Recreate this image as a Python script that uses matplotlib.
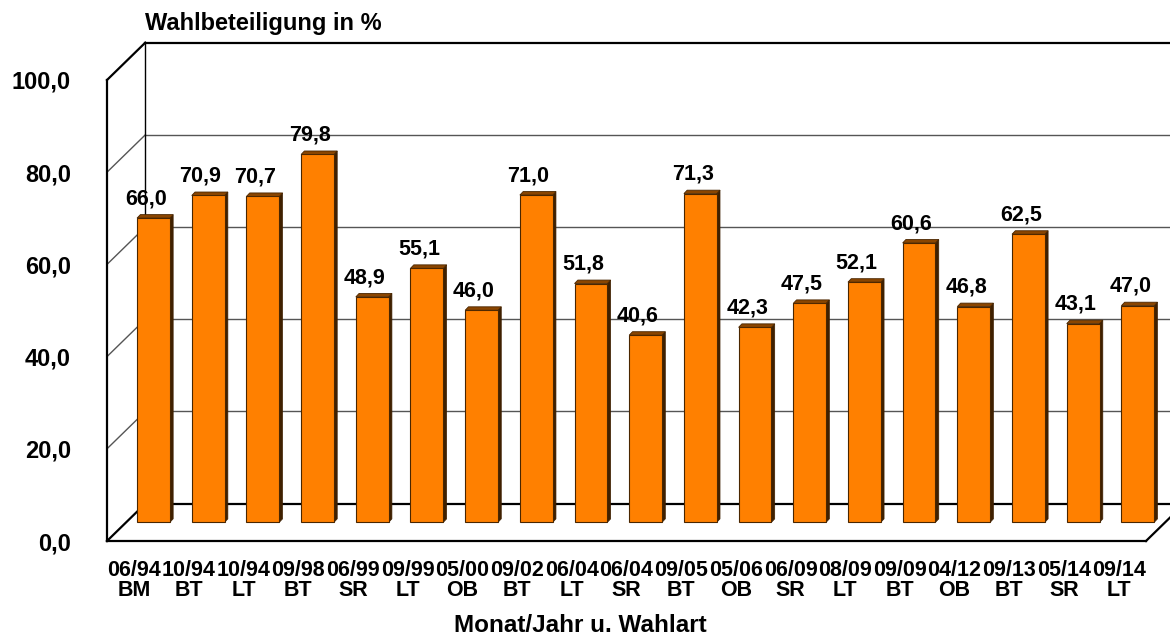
import matplotlib

matplotlib.use("Agg")
import matplotlib.pyplot as plt
import numpy as np
from matplotlib.patches import Polygon

PERIODS = ["06/94", "10/94", "10/94", "09/98", "06/99", "09/99", "05/00", "09/02",
           "06/04", "06/04", "09/05", "05/06", "06/09", "08/09", "09/09", "04/12",
           "09/13", "05/14", "09/14"]
KINDS = ["BM", "BT", "LT", "BT", "SR", "LT", "OB", "BT", "LT", "SR", "BT", "OB",
         "SR", "LT", "BT", "OB", "BT", "SR", "LT"]
TURNOUT = [66.0, 70.9, 70.7, 79.8, 48.9, 55.1, 46.0, 71.0, 51.8, 40.6, 71.3, 42.3,
           47.5, 52.1, 60.6, 46.8, 62.5, 43.1, 47.0]
YTICKS = [0, 20, 40, 60, 80, 100]

ORANGE, SIDE, TOP, EDGE, GRID = "#FF8000", "#3F2000", "#8A4500", "#4A2600", "#555555"

# pseudo-3D geometry in data units
DEPTH_X, DEPTH_Y = 0.70, 8.1      # offset of the back wall
BAR_W = 0.60
BAR_DX, BAR_DY = 0.06, 0.75       # thickness of each bar

plt.rcParams["font.family"] = ["Liberation Sans", "DejaVu Sans"]
plt.rcParams["font.weight"] = "bold"


def de(v):
    return f"{v:.1f}".replace(".", ",")


fig = plt.figure(figsize=(11.7, 6.36), dpi=100)
ax = fig.add_axes([107 / 1170, 95 / 636, 1039 / 1170, 461 / 636])
n = len(TURNOUT)
ax.set_xlim(-0.5, n - 0.5)
ax.set_ylim(0, 100)

# back wall and left wall
x0, x1 = -0.5, n - 0.5
for t in YTICKS:
    strong = t in (0, 100)
    c = "black" if strong else GRID
    lw = 1.6 if strong else 1.0
    ax.plot([x0 + DEPTH_X, x1 + DEPTH_X + 1], [t + DEPTH_Y] * 2, color=c, lw=lw,
            clip_on=False, zorder=1)
    ax.plot([x0, x0 + DEPTH_X], [t, t + DEPTH_Y], color=c, lw=lw, clip_on=False, zorder=1)
ax.plot([x0 + DEPTH_X] * 2, [DEPTH_Y, 100 + DEPTH_Y], color="black", lw=1.0,
        clip_on=False, zorder=1)
ax.plot([x1, x1 + DEPTH_X], [0, DEPTH_Y], color="black", lw=1.6, clip_on=False, zorder=1)

# bars sit half way into the depth
xs = np.arange(n) + DEPTH_X / 2
base = DEPTH_Y / 2
ax.bar(xs, TURNOUT, width=BAR_W, bottom=base, color=ORANGE, edgecolor=EDGE,
       linewidth=0.8, zorder=4, clip_on=False)
for x, v in zip(xs, TURNOUT):
    xl, xr, yt = x - BAR_W / 2, x + BAR_W / 2, base + v
    ax.add_patch(Polygon([(xr, base), (xr + BAR_DX, base + BAR_DY),
                          (xr + BAR_DX, yt + BAR_DY), (xr, yt)],
                         closed=True, facecolor=SIDE, edgecolor=SIDE, lw=0.5,
                         zorder=3, clip_on=False))
    ax.add_patch(Polygon([(xl, yt), (xl + BAR_DX, yt + BAR_DY),
                          (xr + BAR_DX, yt + BAR_DY), (xr, yt)],
                         closed=True, facecolor=TOP, edgecolor=EDGE, lw=0.6,
                         zorder=5, clip_on=False))
    ax.text(x - 0.14, yt + 3.0, de(v), ha="center", va="baseline", fontsize=15.5,
            zorder=6, clip_on=False)

for s in ("top", "right"):
    ax.spines[s].set_visible(False)
for s in ("left", "bottom"):
    ax.spines[s].set_linewidth(1.6)
    ax.spines[s].set_zorder(2)

ax.set_yticks(YTICKS, labels=[de(t) for t in YTICKS])
ax.set_xticks(range(n), labels=[f"{p}\n{k}" for p, k in zip(PERIODS, KINDS)])
ax.tick_params(axis="y", length=0, pad=26, labelsize=17)
ax.tick_params(axis="x", length=0, pad=14, labelsize=15.5)
for lab in ax.get_xticklabels():
    lab.set_linespacing(0.88)

ax.text(x0 + DEPTH_X, 100 + DEPTH_Y + 4.2, "Wahlbeteiligung in %", ha="left",
        va="center", fontsize=17, clip_on=False)
ax.text(8.15, -18.4, "Monat/Jahr u. Wahlart", ha="center", va="center",
        fontsize=17.5, clip_on=False)

fig.savefig("out.png", dpi=100)
